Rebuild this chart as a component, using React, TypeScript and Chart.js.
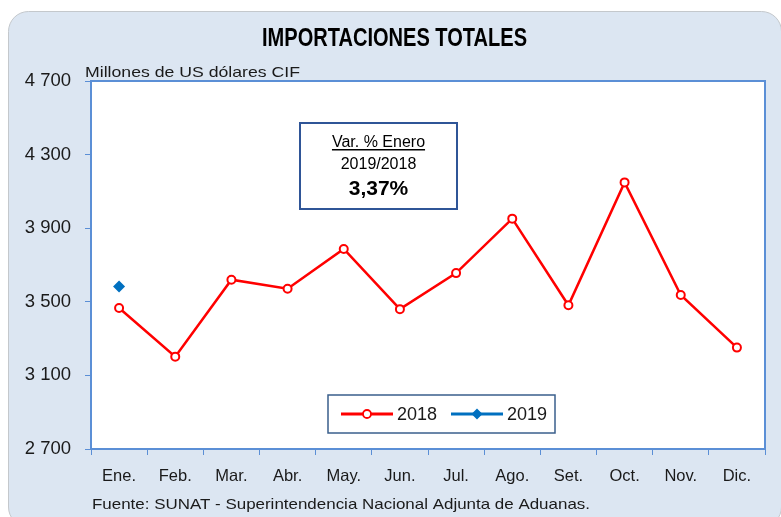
import { useEffect, useRef } from 'react';
import { Chart, registerables } from 'chart.js';

Chart.register(...registerables);

const TITLE = 'IMPORTACIONES TOTALES';
const UNITS = 'Millones de US dólares CIF';
const SOURCE = 'Fuente: SUNAT - Superintendencia Nacional Adjunta de Aduanas.';
const MONTHS = ['Ene.', 'Feb.', 'Mar.', 'Abr.', 'May.', 'Jun.', 'Jul.', 'Ago.', 'Set.', 'Oct.', 'Nov.', 'Dic.'];
const SERIES_2018 = [3466, 3202, 3620, 3571, 3787, 3460, 3656, 3952, 3481, 4149, 3537, 3251];
const SERIES_2019 = [3583, null, null, null, null, null, null, null, null, null, null, null];
const SERIES_LABELS = ['2018', '2019'];
const Y_MIN = 2700;
const Y_MAX = 4700;
const Y_STEP = 400;
const NOTE_LINES = ['Var. % Enero', '2019/2018', '3,37%'];

const W = 781;
const H = 517;
const FONT = '"Liberation Sans", Arial, sans-serif';
const AXIS_BLUE = '#5b8fd6';

function fitText(ctx: CanvasRenderingContext2D, text: string, x: number, y: number, font: string, width: number, align: CanvasTextAlign) {
  ctx.save();
  ctx.font = font;
  const w = ctx.measureText(text).width;
  const s = width / w;
  ctx.translate(x, y);
  ctx.scale(s, 1);
  ctx.textAlign = align;
  ctx.textBaseline = 'alphabetic';
  ctx.fillText(text, 0, 0);
  ctx.restore();
}

function roundRect(ctx: CanvasRenderingContext2D, x: number, y: number, w: number, h: number, r: number) {
  ctx.beginPath();
  ctx.moveTo(x + r, y);
  ctx.lineTo(x + w - r, y);
  ctx.arcTo(x + w, y, x + w, y + r, r);
  ctx.lineTo(x + w, y + h - r);
  ctx.arcTo(x + w, y + h, x + w - r, y + h, r);
  ctx.lineTo(x + r, y + h);
  ctx.arcTo(x, y + h, x, y + h - r, r);
  ctx.lineTo(x, y + r);
  ctx.arcTo(x, y, x + r, y, r);
  ctx.closePath();
}

const decorPlugin = {
  id: 'decor',
  beforeDraw(chart: any) {
    const ctx: CanvasRenderingContext2D = chart.ctx;
    const a = chart.chartArea;
    ctx.save();
    ctx.fillStyle = '#ffffff';
    ctx.fillRect(0, 0, W, H);
    roundRect(ctx, 8.5, 11.5, W - 8.5 + 0.5, H - 11.5 + 10, 20);
    ctx.fillStyle = '#dce6f2';
    ctx.fill();
    ctx.strokeStyle = '#c4c8cc';
    ctx.lineWidth = 1;
    ctx.stroke();
    ctx.fillStyle = '#ffffff';
    ctx.fillRect(a.left, a.top, a.right - a.left, a.bottom - a.top);
    ctx.restore();

    ctx.save();
    ctx.fillStyle = '#000000';
    fitText(ctx, TITLE, 394.5, 46, `bold 25px ${FONT}`, 265, 'center');
    ctx.fillStyle = '#1a1a1a';
    fitText(ctx, UNITS, 85, 77, `15px ${FONT}`, 215, 'left');
    fitText(ctx, SOURCE, 92, 509, `15px ${FONT}`, 498, 'left');
    ctx.restore();
  },
  afterDraw(chart: any) {
    const ctx: CanvasRenderingContext2D = chart.ctx;
    const a = chart.chartArea;
    ctx.save();
    // plot frame
    ctx.strokeStyle = AXIS_BLUE;
    ctx.lineWidth = 2;
    ctx.strokeRect(a.left, a.top, a.right - a.left, a.bottom - a.top);

    // annotation box
    const bx = 300, by = 123, bw = 157, bh = 86;
    ctx.fillStyle = '#ffffff';
    ctx.fillRect(bx, by, bw, bh);
    ctx.strokeStyle = '#2f5597';
    ctx.lineWidth = 2;
    ctx.strokeRect(bx, by, bw, bh);
    const cx = bx + bw / 2;
    ctx.fillStyle = '#000000';
    ctx.textAlign = 'center';
    ctx.textBaseline = 'alphabetic';
    ctx.font = `16px ${FONT}`;
    ctx.fillText(NOTE_LINES[0], cx, 147);
    const uw = ctx.measureText(NOTE_LINES[0]).width;
    ctx.fillRect(cx - uw / 2, 149, uw, 1.5);
    ctx.fillText(NOTE_LINES[1], cx, 169);
    ctx.font = `bold 21px ${FONT}`;
    ctx.fillText(NOTE_LINES[2], cx, 195);

    // legend
    const lx = 328, ly = 395, lw = 227, lh = 38;
    ctx.fillStyle = '#ffffff';
    ctx.fillRect(lx, ly, lw, lh);
    ctx.strokeStyle = '#3a5f8c';
    ctx.lineWidth = 1.5;
    ctx.strokeRect(lx, ly, lw, lh);
    const my = ly + lh / 2;
    const starts = [341, 451];
    chart.data.datasets.forEach((ds: any, i: number) => {
      const sx = starts[i];
      ctx.strokeStyle = ds.borderColor;
      ctx.lineWidth = 3;
      ctx.beginPath();
      ctx.moveTo(sx, my);
      ctx.lineTo(sx + 52, my);
      ctx.stroke();
      const px = sx + 26;
      if (ds.pointStyle === 'circle') {
        ctx.beginPath();
        ctx.arc(px, my, 4, 0, Math.PI * 2);
        ctx.fillStyle = '#ffffff';
        ctx.fill();
        ctx.lineWidth = 1.8;
        ctx.strokeStyle = ds.borderColor;
        ctx.stroke();
      } else {
        ctx.beginPath();
        ctx.moveTo(px, my - 5.5);
        ctx.lineTo(px + 5.5, my);
        ctx.lineTo(px, my + 5.5);
        ctx.lineTo(px - 5.5, my);
        ctx.closePath();
        ctx.fillStyle = ds.pointBackgroundColor;
        ctx.fill();
      }
      ctx.fillStyle = '#1a1a1a';
      ctx.font = `18px ${FONT}`;
      ctx.textAlign = 'left';
      ctx.textBaseline = 'middle';
      ctx.fillText(ds.label, sx + 56, my + 1);
    });
    ctx.restore();
  },
};

function fmt(v: number) {
  return String(v).replace(/\B(?=(\d{3})+(?!\d))/g, ' ');
}

export default function App() {
  const ref = useRef<HTMLCanvasElement | null>(null);
  useEffect(() => {
    if (!ref.current) return;
    const chart = new Chart(ref.current, {
      type: 'line',
      data: {
        labels: MONTHS,
        datasets: [
          {
            label: SERIES_LABELS[0],
            data: SERIES_2018,
            borderColor: '#ff0000',
            borderWidth: 2.5,
            pointStyle: 'circle',
            pointRadius: 4,
            pointBorderWidth: 2,
            pointBackgroundColor: '#ffffff',
            pointBorderColor: '#ff0000',
            tension: 0,
          },
          {
            label: SERIES_LABELS[1],
            data: SERIES_2019,
            borderColor: '#0070c0',
            borderWidth: 3,
            pointStyle: 'rectRot',
            pointRadius: 6,
            pointBorderWidth: 0,
            pointBackgroundColor: '#0070c0',
            pointBorderColor: '#0070c0',
            showLine: false,
          },
        ],
      },
      options: {
        responsive: false,
        animation: false,
        layout: { padding: { left: 0, top: 81, right: 16, bottom: 0 } },
        plugins: {
          legend: { display: false },
          tooltip: { enabled: false },
          title: { display: false },
        },
        scales: {
          x: {
            type: 'category',
            offset: true,
            grid: {
              offset: true,
              drawOnChartArea: false,
              drawTicks: true,
              tickLength: 6,
              color: AXIS_BLUE,
              lineWidth: 1,
            },
            border: { display: true, color: AXIS_BLUE, width: 2 },
            ticks: {
              color: '#1a1a1a',
              font: { family: FONT, size: 16.5 },
              padding: 12,
              maxRotation: 0,
              autoSkip: false,
            },
            afterFit: (s: any) => {
              s.height = H - 449;
            },
          },
          y: {
            min: Y_MIN,
            max: Y_MAX,
            ticks: {
              stepSize: Y_STEP,
              color: '#1a1a1a',
              font: { family: FONT, size: 18.5 },
              padding: 14,
              callback: (v: any) => fmt(Number(v)),
            },
            grid: {
              drawOnChartArea: false,
              drawTicks: true,
              tickLength: 6,
              color: AXIS_BLUE,
              lineWidth: 1,
            },
            border: { display: true, color: AXIS_BLUE, width: 2 },
            afterFit: (s: any) => {
              s.width = 91;
            },
          },
        },
      },
      plugins: [decorPlugin],
    } as any);
    return () => chart.destroy();
  }, []);
  return (
    <div style={{ position: 'fixed', left: 0, top: 0, width: W, height: H }}>
      <canvas ref={ref} width={W} height={H} style={{ width: W, height: H, display: 'block' }} />
    </div>
  );
}
